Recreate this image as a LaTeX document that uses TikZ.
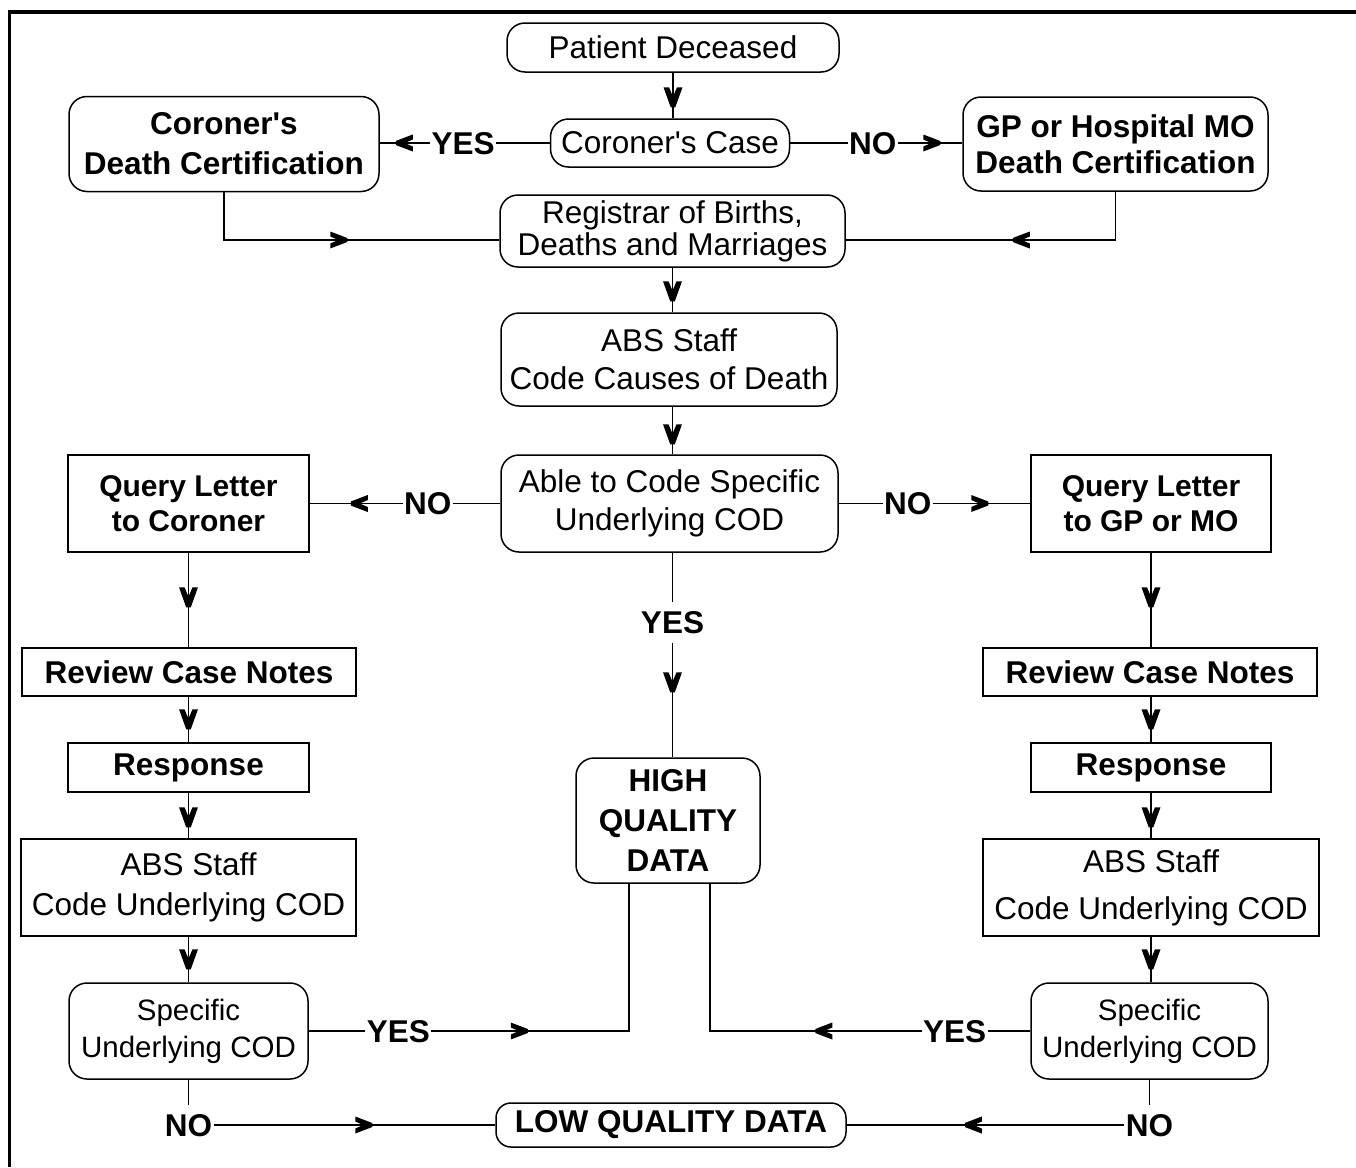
\documentclass[tikz,border=0pt]{standalone}
\usepackage{fontspec}
\newfontfamily\hv{Liberation Sans}
\usetikzlibrary{decorations.markings}
\newcommand\fz[2]{\hv\fontsize{#1pt}{#2pt}\selectfont}
\begin{document}
\begin{tikzpicture}[x=1pt,y=-1pt,
  box/.style={draw, line width=1.5pt, inner sep=0pt, align=center},
  rbox/.style={box, rounded corners=18pt},
  conn/.style={line width=1.5pt},
  lbl/.style={fill=white, font=\fz{31.5}{38}\bfseries, inner xsep=1.5pt, inner ysep=9pt, text height=22.5pt, text depth=0pt},
  hchev/.style={postaction={decorate,decoration={markings,mark=at position #1 with {\fill[black] (-17pt,-8.5pt) -- (0pt,-2pt) -- (0pt,2pt) -- (-17pt,8.5pt) -- (-17pt,3.5pt) -- (-9pt,0pt) -- (-17pt,-3.5pt) -- cycle;}}}},
  vchev/.style={postaction={decorate,decoration={markings,mark=at position #1 with {\fill[black] (-20pt,-9.5pt) -- (0pt,-2.3pt) -- (0pt,2.3pt) -- (-20pt,9.5pt) -- (-20pt,4pt) -- (-10.5pt,0pt) -- (-20pt,-4pt) -- cycle;}}}}
]
\useasboundingbox (0,0) rectangle (1356,1167);
\draw[line width=3.8pt, line join=miter] (9.4,1167) -- (9.4,12) -- (1356,12);

% central column
\node[rbox, font=\fz{31.5}{38}, minimum width=332pt, minimum height=49pt] (pd) at (673,47.5) {Patient Deceased};
\node[rbox, font=\fz{31.5}{38}, minimum width=239pt, minimum height=48pt] (cc) at (670,143) {Coroner's Case};
\node[rbox, font=\fz{31.5}{40}\bfseries, minimum width=310pt, minimum height=95pt] (cdeath) at (224,144) {Coroner's\\Death Certification};
\node[rbox, font=\fz{31.5}{36}\bfseries, minimum width=305pt, minimum height=94pt] (gp) at (1115.5,144) {GP or Hospital MO\\Death Certification};
\node[rbox, font=\fz{31.5}{32}, minimum width=345pt, minimum height=72pt] (reg) at (672.5,231) {Registrar of Births,\\Deaths and Marriages};
\node[rbox, font=\fz{31.5}{38}, minimum width=336pt, minimum height=93pt] (abs) at (669,359.5) {ABS Staff\\Code Causes of Death};
\node[rbox, font=\fz{31.5}{38}, minimum width=337pt, minimum height=97pt] (able) at (669.5,503.5) {Able to Code Specific\\Underlying COD};
\node[rbox, font=\fz{31.5}{40}\bfseries, minimum width=184pt, minimum height=125pt] (hq) at (668,820.5) {HIGH\\QUALITY\\DATA};
\node[rbox, rounded corners=15pt, font=\fz{31.5}{38}\bfseries, minimum width=350pt, minimum height=44pt] (low) at (671,1125) {LOW QUALITY DATA};

% left column
\node[box, font=\fz{30}{35}\bfseries, minimum width=241pt, minimum height=97pt] (ql) at (188.5,503.5) {Query Letter\\to Coroner};
\node[box, font=\fz{31.5}{38}\bfseries, minimum width=334pt, minimum height=48pt] (revL) at (189,672) {Review Case Notes};
\node[box, font=\fz{31.5}{38}\bfseries, minimum width=241pt, minimum height=49pt] (respL) at (188.5,767.5) {Response};
\node[box, font=\fz{31.5}{40}, minimum width=335pt, minimum height=97pt] (absL) at (188.5,887.5) {ABS Staff\\Code Underlying COD};
\node[rbox, font=\fz{29.5}{37}, minimum width=239pt, minimum height=96pt] (specL) at (188.5,1031) {Specific\\Underlying COD};

% right column
\node[box, font=\fz{30}{35}\bfseries, minimum width=240pt, minimum height=97pt] (qr) at (1151,503.5) {Query Letter\\to GP or MO};
\node[box, font=\fz{31.5}{38}\bfseries, minimum width=334pt, minimum height=48pt] (revR) at (1150,672) {Review Case Notes};
\node[box, font=\fz{31.5}{38}\bfseries, minimum width=240pt, minimum height=49pt] (respR) at (1151,767.5) {Response};
\node[box, font=\fz{31.5}{47}, minimum width=336pt, minimum height=97pt] (absR) at (1151,887.5) {ABS Staff\\Code Underlying COD};
\node[rbox, font=\fz{29.5}{37}, minimum width=237pt, minimum height=96pt] (specR) at (1149.5,1031) {Specific\\Underlying COD};

% connectors, top part
\draw[conn, vchev=-11pt] (pd.south) -- (pd.south |- cc.north);
\draw[conn, hchev=-16pt] (cc.west) -- node[lbl, pos=0.51] {YES} (cc.west -| cdeath.east);
\draw[conn, hchev=-22pt] (cc.east) -- node[lbl, pos=0.48] {NO} (cc.east -| gp.west);
\draw[conn, hchev=-152pt] (cdeath.south) |- ([yshift=-9pt]reg.west);
\draw[conn, hchev=-167pt] (gp.south) |- ([yshift=-9pt]reg.east);
\draw[conn, vchev=-11pt] (reg.south) -- (reg.south |- abs.north);
\draw[conn, vchev=-10pt] (reg.south |- abs.south) -- (reg.south |- able.north);
\draw[conn, hchev=-41pt] (able.west) -- node[lbl, pos=0.38] {NO} (able.west -| ql.east);
\draw[conn, hchev=-42pt] (able.east) -- node[lbl, pos=0.36] {NO} (able.east -| qr.west);
\draw[conn, vchev=-65pt] (reg.south |- able.south) -- node[lbl, pos=0.34] {YES} (reg.south |- hq.north);

% left column connectors
\draw[conn, vchev=-40pt] (ql.south) -- (ql.south |- revL.north);
\draw[conn, vchev=-13pt] (ql.south |- revL.south) -- (ql.south |- respL.north);
\draw[conn, vchev=-11pt] (ql.south |- respL.south) -- (ql.south |- absL.north);
\draw[conn, vchev=-13pt] (ql.south |- absL.south) -- (ql.south |- specL.north);

% right column connectors
\draw[conn, vchev=-40pt] (qr.south) -- (qr.south |- revR.north);
\draw[conn, vchev=-13pt] (qr.south |- revR.south) -- (qr.south |- respR.north);
\draw[conn, vchev=-11pt] (qr.south |- respR.south) -- (qr.south |- absR.north);
\draw[conn, vchev=-13pt] (qr.south |- absR.south) -- (qr.south |- specR.north);

% bottom connectors
\draw[conn, hchev=219pt] (specL.east) -| node[lbl, pos=0.14] {YES} ([xshift=-39pt]hq.south);
\draw[conn, hchev=215pt] (specR.west) -| node[lbl, pos=0.118] {YES} ([xshift=42pt]hq.south);
\draw[conn, hchev=-123pt] (specL.south) |- node[lbl, pos=0.5] {NO} (low.west);
\draw[conn, hchev=-118pt] (specR.south) |- node[lbl, pos=0.5] {NO} (low.east);
\end{tikzpicture}
\end{document}
